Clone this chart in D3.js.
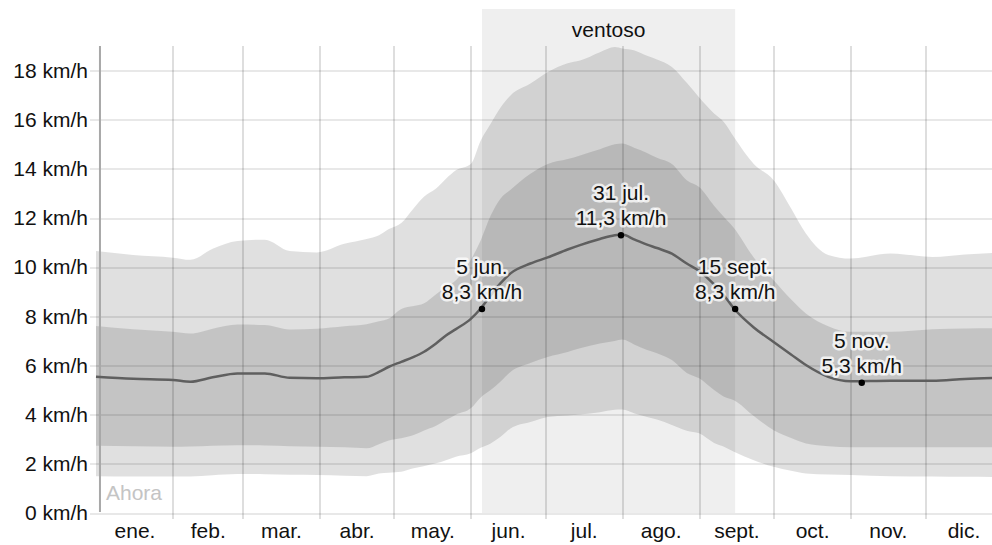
<!DOCTYPE html>
<meta charset="utf-8">
<style type="text/css">
    body { margin: 0; background: #fff; }
    svg { display: block; font-family: "Liberation Sans", Arial, sans-serif; }
    .grid line { shape-rendering: crispEdges; }
</style>
<svg id="chart" width="992" height="545"></svg>
<script src="https://cdn.jsdelivr.net/npm/d3@7/dist/d3.min.js" type="text/javascript"></script>
<script type="text/javascript">
    // day of year (0 = 1 Jan) and wind speed percentiles, km/h
    var days = [0, 15, 31, 38, 47, 57, 68, 78, 89, 100, 109, 114, 118, 123, 128, 132, 137, 141, 145, 151,
        155, 159, 163, 167, 175, 182, 190, 195, 203, 209, 212, 217, 222, 226, 232, 238, 243, 249, 253, 257,
        265, 273, 280, 286, 295, 304, 320, 337, 350, 365];
    var p10 = [1.50, 1.49, 1.48, 1.49, 1.54, 1.59, 1.58, 1.56, 1.55, 1.52, 1.50, 1.61, 1.64, 1.68, 1.82, 1.90, 2.02, 2.15, 2.29, 2.43,
        2.65, 2.83, 3.10, 3.44, 3.70, 3.91, 3.97, 4.01, 4.10, 4.20, 4.21, 4.05, 3.91, 3.80, 3.58, 3.35, 3.24, 2.85, 2.70, 2.49,
        2.15, 1.88, 1.72, 1.61, 1.57, 1.55, 1.50, 1.48, 1.47, 1.46];
    var p25 = [2.74, 2.72, 2.70, 2.71, 2.74, 2.76, 2.75, 2.72, 2.70, 2.67, 2.63, 2.80, 2.95, 3.04, 3.17, 3.35, 3.55, 3.78, 4.00, 4.26,
        4.70, 5.00, 5.35, 5.74, 6.10, 6.35, 6.55, 6.70, 6.90, 7.00, 7.06, 6.85, 6.63, 6.50, 6.22, 5.70, 5.48, 5.00, 4.73, 4.59,
        3.95, 3.37, 3.05, 2.83, 2.72, 2.67, 2.67, 2.67, 2.68, 2.68];
    var median = [5.54, 5.46, 5.41, 5.34, 5.52, 5.68, 5.68, 5.50, 5.48, 5.52, 5.54, 5.74, 5.95, 6.15, 6.35, 6.55, 6.90, 7.22, 7.48, 7.90,
        8.32, 8.85, 9.35, 9.75, 10.15, 10.40, 10.72, 10.90, 11.15, 11.30, 11.33, 11.12, 10.92, 10.78, 10.55, 10.15, 9.85, 9.30, 8.85, 8.32,
        7.55, 6.96, 6.45, 6.02, 5.54, 5.36, 5.38, 5.38, 5.45, 5.50];
    var p75 = [7.61, 7.48, 7.37, 7.30, 7.50, 7.67, 7.65, 7.47, 7.50, 7.60, 7.68, 7.80, 7.91, 8.30, 8.42, 8.52, 8.90, 9.20, 9.47, 10.30,
        11.10, 12.10, 12.80, 13.15, 13.80, 14.20, 14.40, 14.55, 14.80, 15.00, 15.03, 14.85, 14.65, 14.45, 14.20, 13.54, 13.26, 12.50, 12.04, 11.60,
        10.40, 9.47, 8.70, 8.12, 7.60, 7.37, 7.37, 7.48, 7.51, 7.52];
    var p90 = [10.66, 10.50, 10.39, 10.30, 10.75, 11.07, 11.12, 10.66, 10.60, 10.95, 11.15, 11.30, 11.55, 11.80, 12.40, 12.86, 13.20, 13.60, 13.94, 14.20,
        15.16, 15.84, 16.50, 16.99, 17.47, 17.94, 18.30, 18.41, 18.75, 18.96, 18.90, 18.82, 18.60, 18.45, 18.15, 17.50, 16.90, 16.25, 15.90, 15.30,
        14.20, 13.54, 12.40, 11.37, 10.50, 10.35, 10.56, 10.42, 10.52, 10.60];

    var monthStarts = [0, 31, 59, 90, 120, 151, 181, 212, 243, 273, 304, 334, 365];
    var monthLabels = ["ene.", "feb.", "mar.", "abr.", "may.", "jun.", "jul.", "ago.", "sept.", "oct.", "nov.", "dic."];
    var yTicks = [0, 2, 4, 6, 8, 10, 12, 14, 16, 18];

    var annoDays = [155, 211, 257, 308];
    var annoValues = [8.3, 11.3, 8.3, 5.3];
    var annoDates = ["5 jun.", "31 jul.", "15 sept.", "5 nov."];
    var windyFrom = 155, windyTo = 257;
    var nowDay = 1.6;

    var width = 992;
    var plotTop = 46, plotBottom = 513;

    var svg = d3.select("#chart");
    var x = d3.scaleLinear().domain([0, 365]).range([96, 1002]);
    var y = d3.scaleLinear().domain([0, 19]).range([plotBottom, plotTop]);
    var es = d3.formatLocale({ decimal: ",", thousands: ".", grouping: [3], currency: ["", "€"] });
    var fmtEs = es.format(".1f");

    // windy season highlight
    svg.append("rect")
        .attr("x", x(windyFrom + 0.5))
        .attr("y", 9)
        .attr("width", x(windyTo + 0.5) - x(windyFrom + 0.5))
        .attr("height", plotBottom - 9)
        .attr("fill", "#efefef");
    svg.append("text")
        .attr("x", (x(windyFrom + 0.5) + x(windyTo + 0.5)) / 2)
        .attr("y", 37)
        .attr("text-anchor", "middle")
        .attr("font-size", 21)
        .attr("fill", "#111")
        .text("ventoso");

    var pts = days.map(function (d, i) {
        return { d: d, p10: p10[i], p25: p25[i], med: median[i], p75: p75[i], p90: p90[i] };
    });

    var outer = d3.area().curve(d3.curveMonotoneX)
        .x(function (p) { return x(p.d); })
        .y0(function (p) { return y(p.p10); })
        .y1(function (p) { return y(p.p90); });
    var inner = d3.area().curve(d3.curveMonotoneX)
        .x(function (p) { return x(p.d); })
        .y0(function (p) { return y(p.p25); })
        .y1(function (p) { return y(p.p75); });

    svg.append("path").datum(pts).attr("d", outer).attr("fill", "#000").attr("fill-opacity", 0.12);
    svg.append("path").datum(pts).attr("d", inner).attr("fill", "#000").attr("fill-opacity", 0.12);

    // horizontal grid + y labels
    var yAxis = svg.append("g")
        .attr("class", "grid")
        .attr("transform", "translate(90,0)")
        .call(d3.axisLeft(y).tickValues(yTicks).tickSize(-(width - 90)).tickPadding(2)
            .tickFormat(function (v) { return v + " km/h"; }));
    yAxis.select(".domain").remove();
    yAxis.selectAll("line").attr("stroke", "#000").attr("stroke-opacity", 0.09).attr("stroke-width", 2);
    yAxis.attr("font-family", null).attr("font-size", null);
    yAxis.selectAll("text").attr("font-size", 21).attr("fill", "#111");

    // vertical month grid
    var xGrid = svg.append("g")
        .attr("class", "grid")
        .attr("transform", "translate(0,519)")
        .call(d3.axisBottom(x).tickValues(monthStarts.slice(1, 12)).tickSize(-(519 - plotTop)).tickFormat(""));
    xGrid.select(".domain").remove();
    xGrid.selectAll("line").attr("stroke", "#000").attr("stroke-opacity", 0.13).attr("stroke-width", 2);

    // month labels
    var mids = monthLabels.map(function (m, i) { return (monthStarts[i] + monthStarts[i + 1]) / 2; });
    var xAxis = svg.append("g")
        .attr("transform", "translate(0," + plotBottom + ")")
        .call(d3.axisBottom(x).tickValues(mids).tickSize(0).tickPadding(10)
            .tickFormat(function (v, i) { return monthLabels[i]; }));
    xAxis.select(".domain").remove();
    xAxis.attr("font-family", null).attr("font-size", null);
    xAxis.selectAll("text").attr("font-size", 21).attr("fill", "#111");

    // now marker
    svg.append("line")
        .attr("x1", x(nowDay)).attr("x2", x(nowDay))
        .attr("y1", plotTop).attr("y2", 512)
        .attr("stroke", "#a8a8a8").attr("stroke-width", 2);
    svg.append("text")
        .attr("x", x(nowDay) + 6).attr("y", 500)
        .attr("font-size", 21).attr("fill", "#c4c4c4")
        .text("Ahora");

    // median line
    var line = d3.line().curve(d3.curveMonotoneX)
        .x(function (p) { return x(p.d); })
        .y(function (p) { return y(p.med); });
    svg.append("path").datum(pts).attr("d", line)
        .attr("fill", "none").attr("stroke", "#5f5f5f").attr("stroke-width", 2.5);

    // annotations
    var anno = svg.append("g").selectAll("g")
        .data(annoDays.map(function (d, i) { return { d: d, v: annoValues[i], date: annoDates[i] }; }))
        .join("g")
        .attr("transform", function (a) { return "translate(" + x(a.d + 0.5) + "," + y(a.v) + ")"; });
    anno.append("circle").attr("r", 3.2).attr("fill", "#000");
    anno.selectAll("text")
        .data(function (a) { return [[a.date, -35], [fmtEs(a.v) + " km/h", -10]]; })
        .join("text")
        .attr("y", function (t) { return t[1]; })
        .attr("text-anchor", "middle")
        .attr("font-size", 21)
        .attr("fill", "#111")
        .attr("stroke", "#fff").attr("stroke-width", 5).attr("stroke-opacity", 0.75)
        .attr("stroke-linejoin", "round")
        .attr("paint-order", "stroke")
        .text(function (t) { return t[0]; });
</script>
